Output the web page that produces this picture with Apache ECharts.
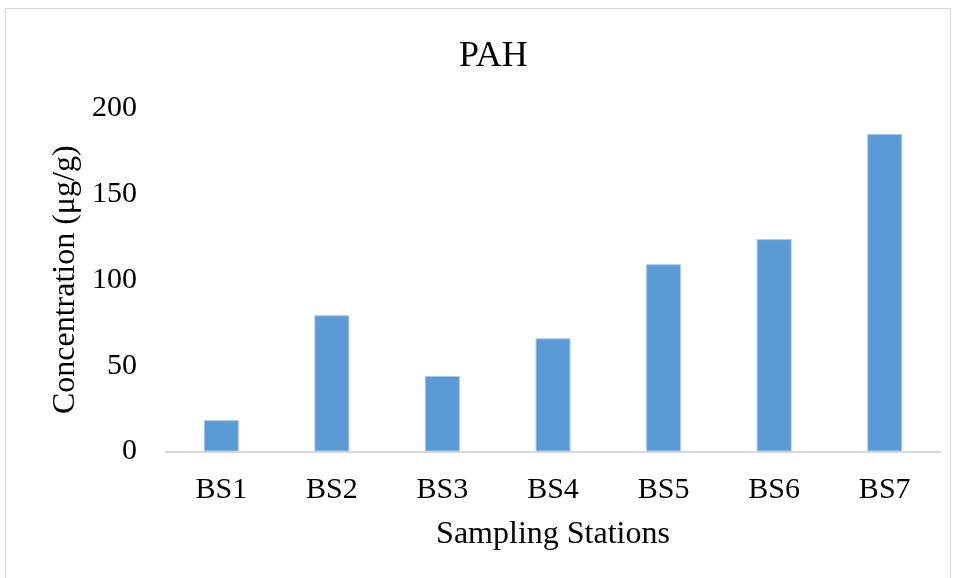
<!DOCTYPE html>
<html>
<head>
<meta charset="utf-8">
<script src="https://cdn.jsdelivr.net/npm/echarts@6/dist/echarts.min.js"></script>
<style>
html,body{margin:0;padding:0;background:#fff;}
#frame{position:absolute;left:5px;top:8px;width:946px;height:580px;border:1px solid #d9d9d9;box-sizing:border-box;}
#chart{position:absolute;left:0;top:0;width:957px;height:578px;}
</style>
</head>
<body>
<div id="frame"></div>
<div id="chart"></div>
<script>
const categories = ['BS1','BS2','BS3','BS4','BS5','BS6','BS7'];
const values = [18.3, 79.3, 44.0, 65.9, 109.0, 123.7, 184.9];
const yTicks = [0, 50, 100, 150, 200];

const chart = echarts.init(document.getElementById('chart'));
const font = '"Liberation Serif", "Times New Roman", serif';
chart.setOption({
  backgroundColor: 'transparent',
  animation: false,
  title: {
    text: 'PAH', left: 454, top: 34,
    textStyle: {fontFamily: font, fontSize: 36, fontWeight: 'normal', color: '#000'}
  },
  grid: {left: 166, right: 17, top: 108, bottom: 126.5},
  xAxis: {
    type: 'category', data: categories,
    name: 'Sampling Stations', nameLocation: 'middle', nameGap: 67,
    nameTextStyle: {fontFamily: font, fontSize: 32, color: '#000'},
    axisLine: {lineStyle: {color: '#d9d9d9', width: 2}},
    axisTick: {show: false},
    axisLabel: {fontFamily: font, fontSize: 30, color: '#000', margin: 24}
  },
  yAxis: {
    type: 'value', min: yTicks[0], max: yTicks[yTicks.length-1], interval: 50,
    name: 'Concentration (μg/g)', nameLocation: 'middle', nameGap: 84, nameRotate: 90,
    nameTextStyle: {fontFamily: font, fontSize: 32, color: '#000'},
    axisLine: {show: false}, axisTick: {show: false},
    splitLine: {show: false},
    axisLabel: {fontFamily: font, fontSize: 30, color: '#000', margin: 29}
  },
  series: [{
    type: 'bar', data: values, barWidth: 35,
    itemStyle: {color: '#5b9bd5', borderColor: '#a9c8ea', borderWidth: 1}
  }]
});
</script>
</body>
</html>
